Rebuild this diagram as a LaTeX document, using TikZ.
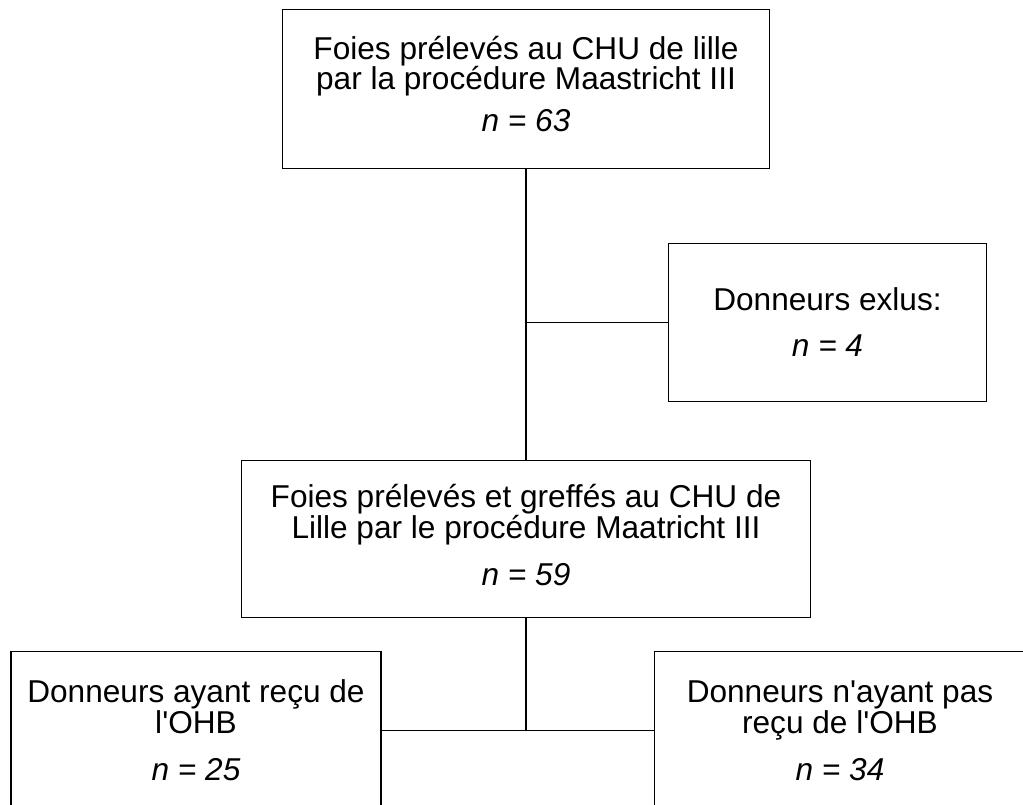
\documentclass[tikz,border=0pt]{standalone}
\usepackage{fontspec}
\setmainfont{Liberation Sans}[Ligatures=TeXOff]
\begin{document}
\begin{tikzpicture}[x=1pt,y=-1pt,
  box/.style={draw=black,line width=1.2pt,fill=none,rectangle,inner sep=0pt},
  txt/.style={anchor=base,inner sep=0pt,font=\fontsize{31.6}{30}\selectfont},
  link/.style={draw=black,line width=1.2pt}]
\useasboundingbox (0,0) rectangle (1023,804);
\clip (0,0) rectangle (1023,804);
% boxes
\node[box,minimum width=486.6pt,minimum height=159pt] (top) at (526,88.8) {};
\node[box,minimum width=318.4pt,minimum height=158.4pt] (excl) at (827.5,322.5) {};
\node[box,minimum width=568.8pt,minimum height=156.6pt] (mid) at (526,539) {};
\node[box,minimum width=370pt,minimum height=158.3pt] (bl) at (196,730.85) {};
\node[box,minimum width=370.6pt,minimum height=158.3pt] (br) at (840,730.85) {};
% texts
\node[txt] (t1a) at (526,59.5) {Foies prélevés au CHU de lille};
\node[txt] (t1b) at (526,89) {par la procédure Maastricht III};
\node[txt] (t1n) at (526,131) {\itshape n = 63};
\node[txt] (t2a) at (827.5,310) {Donneurs exlus:};
\node[txt] (t2n) at (827.5,356.5) {\itshape n = 4};
\node[txt] (t3a) at (526,507) {Foies prélevés et greffés au CHU de};
\node[txt] (t3b) at (526,538) {Lille par le procédure Maatricht III};
\node[txt] (t3n) at (526,585.5) {\itshape n = 59};
\node[txt] (t4a) at (196,702.3) {Donneurs ayant reçu de};
\node[txt] (t4b) at (196,733.3) {l'OHB};
\node[txt] (t4n) at (196,780) {\itshape n = 25};
\node[txt] (t5a) at (840,702.3) {Donneurs n'ayant pas};
\node[txt] (t5b) at (840,733.3) {reçu de l'OHB};
\node[txt] (t5n) at (840,780) {\itshape n = 34};
% connectors
\draw[link] (top.south) -- (mid.north);
\draw[link] (top.south |- excl.west) -- (excl.west);
\draw[link] (mid.south) -- (mid.south |- bl.east);
\draw[link] (bl.east) -- (br.west);
\end{tikzpicture}
\end{document}
